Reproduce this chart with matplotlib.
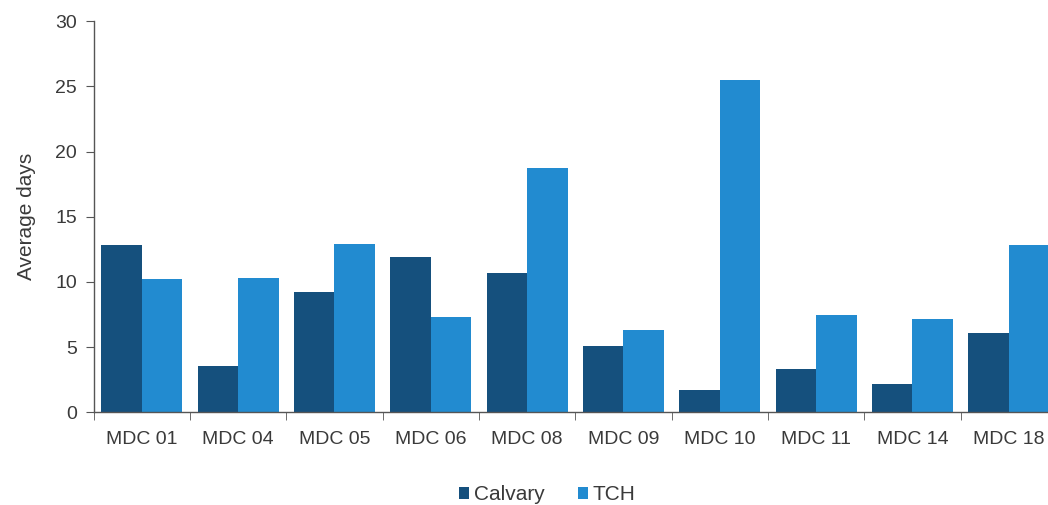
import numpy as np
import matplotlib.pyplot as plt
from matplotlib.ticker import FixedLocator

plt.rcParams['font.family'] = ['Liberation Sans', 'DejaVu Sans']

# Average length of stay per MDC
mdc = ['MDC 01', 'MDC 04', 'MDC 05', 'MDC 06', 'MDC 08',
       'MDC 09', 'MDC 10', 'MDC 11', 'MDC 14', 'MDC 18']
calvary = [12.8, 3.6, 9.2, 11.9, 10.7, 5.1, 1.7, 3.3, 2.2, 6.1]
tch = [10.2, 10.3, 12.9, 7.3, 18.7, 6.3, 25.5, 7.5, 7.2, 12.8]

dark = '#15507d'
light = '#228bd0'
txt = '#3a3a3a'

fig = plt.figure(figsize=(10.48, 5.05), dpi=100)
ax = fig.add_axes([0.0893, 0.1832, 0.9193, 0.7752])

x = np.arange(len(mdc))
w = 0.42
ax.bar(x - w / 2, calvary, w, color=dark, label='Calvary')
ax.bar(x + w / 2, tch, w, color=light, label='TCH')

ax.set_xlim(-0.5, len(mdc) - 0.5)
ax.set_ylim(0, 30)
ax.set_yticks(range(0, 31, 5))

# category labels centred, tick marks between groups
ax.set_xticks(x)
ax.set_xticklabels(mdc)
ax.tick_params(axis='x', length=0, pad=13, labelsize=14, labelcolor=txt)
ax.xaxis.set_minor_locator(FixedLocator(np.arange(-0.5, len(mdc), 1.0)))
ax.tick_params(axis='x', which='minor', length=6, color='#555555')
ax.tick_params(axis='y', length=6, color='#555555', labelsize=14,
               labelcolor=txt, pad=6)

ax.set_ylabel('Average days', fontsize=15, color=txt, labelpad=14)

for s in ['top', 'right']:
    ax.spines[s].set_visible(False)
for s in ['left', 'bottom']:
    ax.spines[s].set_color('#555555')
    ax.spines[s].set_linewidth(1)

leg = fig.legend(loc='center', bbox_to_anchor=(0.522, 0.02), ncol=2,
                 frameon=False, fontsize=15, handlelength=0.5,
                 handleheight=0.5, handletextpad=0.2, columnspacing=1.6)
for t in leg.get_texts():
    t.set_color(txt)

fig.savefig('out.png', dpi=100)
